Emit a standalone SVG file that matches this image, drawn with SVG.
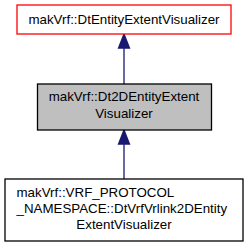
<svg xmlns="http://www.w3.org/2000/svg" width="248" height="248" viewBox="0 0 248 248">
<style>
text{font-family:"Liberation Sans",Arial,sans-serif;font-size:13.33px;fill:#000}
.box{stroke-width:1.3}
.edge{stroke:#191970;stroke-width:1.3;fill:none}
.head{fill:#191970;stroke:#191970;stroke-width:1.3}
</style>
<rect width="248" height="248" fill="#fff"/>
<g id="connectors">
<line class="edge" x1="124" y1="48" x2="124" y2="84"/>
<polygon class="head" points="124,34 118.5,48 129.5,48"/>
<line class="edge" x1="124" y1="144" x2="124" y2="179"/>
<polygon class="head" points="124,130 118.5,144 129.5,144"/>
</g>
<g id="node-base">
<rect class="box" x="17" y="5" width="214" height="29" fill="#fff" stroke="#ff0000"/>
<text x="124" y="24" text-anchor="middle">makVrf::DtEntityExtentVisualizer</text>
</g>
<g id="node-current">
<rect class="box" x="37.5" y="84" width="174" height="46" fill="#bfbfbf" stroke="#000"/>
<text x="124" y="101" text-anchor="middle">makVrf::Dt2DEntityExtent</text>
<text x="124" y="118" text-anchor="middle">Visualizer</text>
</g>
<g id="node-derived">
<rect class="box" x="5" y="179" width="238" height="62" fill="#fff" stroke="#000"/>
<text x="16.5" y="197">makVrf::VRF_PROTOCOL</text>
<text x="16.5" y="213">_NAMESPACE::DtVrfVrlink2DEntity</text>
<text x="124" y="229" text-anchor="middle">ExtentVisualizer</text>
</g>
</svg>
